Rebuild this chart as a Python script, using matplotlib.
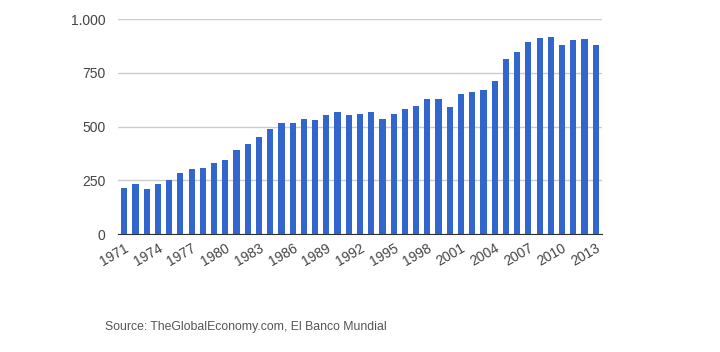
import matplotlib.pyplot as plt
import numpy as np

years = list(range(1971, 2014))
values = [214, 232, 209, 232, 251, 284, 302, 307, 330, 344,
          391, 419, 451, 488, 516, 516, 535, 530, 553, 567,
          553, 558, 567, 535, 558, 581, 595, 628, 628, 591,
          651, 660, 670, 711, 814, 846, 893, 911, 916, 879,
          902, 907, 879]
yticks = [0, 250, 500, 750, 1000]
ytick_labels = ['0', '250', '500', '750', '1.000']

plt.rcParams['font.family'] = ['Liberation Sans', 'DejaVu Sans']

fig = plt.figure(figsize=(7.2, 3.52), dpi=100)
ax = fig.add_axes([0.164, 0.335, 0.672, 0.611])

x = np.arange(len(years))
ax.bar(x, values, width=0.55, color='#3366cc', zorder=3)

ax.set_xlim(-0.55, len(years) - 0.45)
ax.set_ylim(0, 1000)
ax.set_yticks(yticks)
ax.set_yticklabels(ytick_labels)
ax.set_xticks(x[::3])
ax.set_xticklabels([str(y) for y in years[::3]], rotation=30, ha='right',
                   rotation_mode='anchor')

ax.grid(axis='y', color='#cccccc', linewidth=1, zorder=0)
for s in ['top', 'right', 'left']:
    ax.spines[s].set_visible(False)
ax.spines['bottom'].set_color('#333333')
ax.spines['bottom'].set_zorder(4)
ax.tick_params(axis='both', length=0, colors='#444444', labelsize=10)
ax.tick_params(axis='y', pad=9)
ax.tick_params(axis='x', pad=5)

fig.text(0.146, 0.071, 'Source: TheGlobalEconomy.com, El Banco Mundial',
         fontsize=8.8, color='#555555', va='center')

fig.savefig('out.png', dpi=100, facecolor='white')
